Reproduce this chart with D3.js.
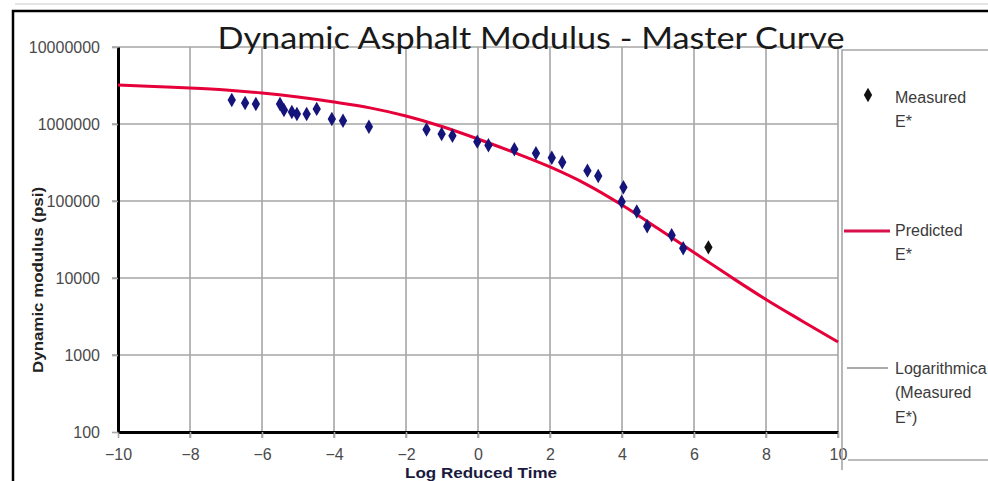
<!DOCTYPE html>
<html>
<head>
<meta charset="utf-8">
<script src="https://cdnjs.cloudflare.com/ajax/libs/d3/7.8.5/d3.min.js"></script>
<style>
    body { margin: 0; background: #fff; }
    svg { display: block; }
</style>
</head>
<body>
<div id="chart"></div>
<script>
// measured dynamic modulus (psi) vs log reduced time
var measuredX = [-6.84, -6.47, -6.17, -5.50, -5.39, -5.17, -5.03, -4.76, -4.48, -4.06, -3.75, -3.03,
    -1.43, -1.01, -0.71, -0.02, 0.29, 1.01, 1.61, 2.05, 2.34, 3.04, 3.34, 4.04, 3.99, 4.41, 4.70, 5.38, 5.70];
var measuredE = [2.05e6, 1.87e6, 1.82e6, 1.82e6, 1.52e6, 1.43e6, 1.35e6, 1.35e6, 1.57e6, 1.16e6, 1.10e6, 9.2e5,
    8.5e5, 7.4e5, 7.05e5, 5.9e5, 5.3e5, 4.7e5, 4.16e5, 3.65e5, 3.18e5, 2.48e5, 2.11e5, 1.51e5, 9.8e4, 7.3e4, 4.7e4, 3.6e4, 2.43e4];
// the one darker point at the end
var lastX = [6.40];
var lastE = [2.5e4];

// predicted master curve
var predX = [-10, -9, -8, -7, -6, -5, -4, -3, -2, -1, 0, 1, 2, 3, 4, 5, 6, 7, 8, 9, 10];
var predE = [3.21e6, 3.07e6, 2.94e6, 2.77e6, 2.53e6, 2.24e6, 1.93e6, 1.62e6, 1.27e6, 9.29e5, 6.39e5,
    4.27e5, 2.77e5, 1.66e5, 8.87e4, 4.4e4, 2.14e4, 1.05e4, 5260, 2770, 1475];

var xTicks = [-10, -8, -6, -4, -2, 0, 2, 4, 6, 8, 10];
var yTicks = [100, 1000, 10000, 100000, 1000000, 10000000];

var W = 988, H = 481;
var o = {left: 118, right: 838, top: 47, bottom: 432};

var svg = d3.select("#chart").append("svg")
    .attr("width", W)
    .attr("height", H);

// chart frame
svg.append("line").attr("x1", 15).attr("x2", W).attr("y1", 4).attr("y2", 4)
    .style("stroke", "#e4e4e4").style("stroke-width", 2);
svg.append("path")
    .attr("d", "M13," + H + "V11H" + W)
    .style("fill", "none").style("stroke", "#000").style("stroke-width", 2.5);

var x = d3.scaleLinear().domain([-10, 10]).range([o.left, o.right]),
    y = d3.scaleLog().domain([100, 1e7]).range([o.bottom, o.top]);

// grid
var grid = svg.append("g").classed("grid", true);
grid.selectAll("line.v")
    .data(xTicks.slice(1))
    .enter().append("line")
    .attr("class", "v")
    .attr("x1", function (d) { return x(d); })
    .attr("x2", function (d) { return x(d); })
    .attr("y1", o.top).attr("y2", o.bottom + 6);
grid.selectAll("line.h")
    .data(yTicks.slice(1))
    .enter().append("line")
    .attr("class", "h")
    .attr("x1", o.left - 6).attr("x2", o.right)
    .attr("y1", function (d) { return y(d); })
    .attr("y2", function (d) { return y(d); });
grid.selectAll("line").style("stroke", "#a6a6a6").style("stroke-width", 1.6);

// axes
var xAxis = d3.axisBottom(x).tickValues(xTicks).tickSize(6).tickSizeOuter(0).tickPadding(11),
    yAxis = d3.axisLeft(y).tickValues(yTicks).tickFormat(d3.format("d")).tickSize(6).tickSizeOuter(0).tickPadding(12);

var gx = svg.append("g").attr("transform", "translate(0," + o.bottom + ")").call(xAxis);
var gy = svg.append("g").attr("transform", "translate(" + o.left + ",0)").call(yAxis);

[gx, gy].forEach(function (g) {
    g.select(".domain").style("stroke", "#000").style("stroke-width", 3);
    g.selectAll(".tick line").style("stroke", "#a6a6a6").style("stroke-width", 1.6);
    g.selectAll(".tick text")
        .style("font-family", "Liberation Sans, Arial, sans-serif")
        .style("font-size", "16px")
        .style("fill", "#4a4a4a");
});
gy.selectAll(".tick text").attr("dy", "0.36em");

// predicted curve
var line = d3.line()
    .x(function (d) { return x(d[0]); })
    .y(function (d) { return y(d[1]); })
    .curve(d3.curveMonotoneX);

svg.append("path")
    .datum(d3.zip(predX, predE))
    .attr("d", line)
    .style("fill", "none")
    .style("stroke", "#e6003a")
    .style("stroke-width", 3);

// measured points
var diamond = d3.symbol().type(d3.symbolDiamond).size(60);
svg.selectAll("path.measured")
    .data(d3.zip(measuredX, measuredE))
    .enter().append("path")
    .attr("class", "measured")
    .attr("d", diamond)
    .attr("transform", function (d) { return "translate(" + x(d[0]) + "," + y(d[1]) + ")"; })
    .style("fill", "#14147a");
svg.selectAll("path.last")
    .data(d3.zip(lastX, lastE))
    .enter().append("path")
    .attr("class", "last")
    .attr("d", diamond)
    .attr("transform", function (d) { return "translate(" + x(d[0]) + "," + y(d[1]) + ")"; })
    .style("fill", "#111");

// titles
svg.append("text")
    .attr("x", 531).attr("y", 49)
    .attr("text-anchor", "middle")
    .attr("textLength", 627).attr("lengthAdjust", "spacingAndGlyphs")
    .style("font-family", "Lato, Open Sans, sans-serif")
    .style("font-size", "31px")
    .style("fill", "#1a1a1a")
    .text("Dynamic Asphalt Modulus - Master Curve");

svg.append("text")
    .attr("x", 481).attr("y", 478)
    .attr("text-anchor", "middle")
    .attr("textLength", 152).attr("lengthAdjust", "spacingAndGlyphs")
    .style("font-family", "Liberation Sans, Arial, sans-serif")
    .style("font-size", "15px").style("font-weight", "bold")
    .style("fill", "#1a1a40")
    .text("Log Reduced Time");

svg.append("text")
    .attr("transform", "translate(43,280) rotate(-90)")
    .attr("text-anchor", "middle")
    .attr("textLength", 186).attr("lengthAdjust", "spacingAndGlyphs")
    .style("font-family", "Liberation Sans, Arial, sans-serif")
    .style("font-size", "15px").style("font-weight", "bold")
    .style("fill", "#222")
    .text("Dynamic modulus (psi)");

// legend
var legend = svg.append("g").classed("legend", true);
legend.append("path")
    .attr("d", "M842,470V50H" + W + "M848,460H" + W)
    .style("fill", "none").style("stroke", "#a6a6a6").style("stroke-width", 1.6);

legend.append("path")
    .attr("d", diamond)
    .attr("transform", "translate(868,95)")
    .style("fill", "#111");
legend.append("line")
    .attr("x1", 844).attr("x2", 890).attr("y1", 231).attr("y2", 231)
    .style("stroke", "#d8104c").style("stroke-width", 3);
legend.append("line")
    .attr("x1", 847).attr("x2", 888).attr("y1", 368).attr("y2", 368)
    .style("stroke", "#8c8c8c").style("stroke-width", 1.5);

var legendLines = [
    ["Measured", 103], ["E*", 127],
    ["Predicted", 236], ["E*", 260],
    ["Logarithmica", 374], ["(Measured", 398], ["E*)", 423]
];
legend.selectAll("text")
    .data(legendLines)
    .enter().append("text")
    .attr("x", 895)
    .attr("y", function (d) { return d[1]; })
    .style("font-family", "Liberation Sans, Arial, sans-serif")
    .style("font-size", "16px")
    .style("fill", "#3a3a3a")
    .text(function (d) { return d[0]; });
</script>
</body>
</html>
